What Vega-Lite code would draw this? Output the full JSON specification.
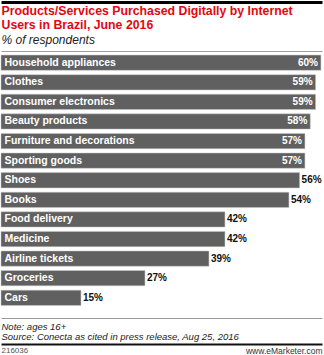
{
  "$schema": "https://vega.github.io/schema/vega-lite/v6.json",
  "width": 324,
  "height": 355,
  "autosize": {"type": "fit", "contains": "padding"},
  "padding": {"top": 1.5, "left": 0, "right": 0, "bottom": 0},
  "background": "white",
  "config": {
    "view": {"stroke": null},
    "axis": {"grid": false, "labels": false, "ticks": false, "tickSize": 0, "domainColor": "#9a9a9a", "domainWidth": 1, "titleFont": "Liberation Sans", "titleFontWeight": "normal"}
  },
  "data": {
    "values": [
      {"item": "Household appliances", "pct": 0.60},
      {"item": "Clothes", "pct": 0.59},
      {"item": "Consumer electronics", "pct": 0.59},
      {"item": "Beauty products", "pct": 0.58},
      {"item": "Furniture and decorations", "pct": 0.57},
      {"item": "Sporting goods", "pct": 0.57},
      {"item": "Shoes", "pct": 0.56},
      {"item": "Books", "pct": 0.54},
      {"item": "Food delivery", "pct": 0.42},
      {"item": "Medicine", "pct": 0.42},
      {"item": "Airline tickets", "pct": 0.39},
      {"item": "Groceries", "pct": 0.27},
      {"item": "Cars", "pct": 0.15}
    ]
  },
  "encoding": {
    "y": {
      "field": "item",
      "type": "nominal",
      "sort": null,
      "scale": {"paddingInner": 0.22, "paddingOuter": 0.08},
      "axis": {
        "title": null,
        "domain": false,
        "ticks": false,
        "tickSize": 0,
        "labels": true,
        "labelAlign": "left",
        "labelPadding": -3,
        "labelColor": "white",
        "labelFont": "Liberation Sans",
        "labelFontWeight": "bold",
        "labelFontSize": 10.5,
        "minExtent": 0,
        "zindex": 2
      }
    }
  },
  "layer": [
    {
      "mark": {"type": "bar", "color": "#606060", "stroke": "#c8c8c8", "strokeWidth": 0.5},
      "encoding": {
        "x": {"field": "pct", "type": "quantitative", "scale": {"domain": [0, 0.602]},
          "axis": {"orient": "top", "offset": 2.5, "domainColor": "#a0a0a0",
            "title": "% of respondents", "titleAnchor": "start", "titleAlign": "left", "titlePadding": 5,
            "titleFontStyle": "italic", "titleFontSize": 12, "titleColor": "#222222"}}
      }
    },
    {
      "transform": [{"filter": "datum.pct >= 0.57"}],
      "mark": {"type": "text", "align": "right", "dx": -3, "color": "white", "font": "Liberation Sans", "fontWeight": "bold", "fontSize": 10},
      "encoding": {
        "x": {"field": "pct", "type": "quantitative", "scale": {"domain": [0, 0.602]},
          "axis": {"orient": "top", "offset": 22, "domain": false,
            "title": ["Products/Services Purchased Digitally by Internet", "Users in Brazil, June 2016"],
            "titleAnchor": "start", "titleAlign": "left", "titlePadding": 0,
            "titleFontWeight": "bold", "titleFontSize": 12.3, "titleLineHeight": 14, "titleColor": "#e4060f"}},
        "text": {"field": "pct", "type": "quantitative", "format": ".0%"}
      }
    },
    {
      "mark": {"type": "point", "opacity": 0},
      "encoding": {
        "x": {"field": "pct", "type": "quantitative", "scale": {"domain": [0, 0.602]},
          "axis": {"orient": "top", "offset": 51.5, "title": null, "domain": true, "domainColor": "#000000", "domainWidth": 3}}
      }
    },
    {
      "transform": [{"filter": "datum.pct < 0.57"}],
      "mark": {"type": "text", "align": "left", "dx": 2, "color": "#111111", "font": "Liberation Sans", "fontWeight": "bold", "fontSize": 10},
      "encoding": {
        "x": {"field": "pct", "type": "quantitative", "scale": {"domain": [0, 0.602]},
          "axis": {"orient": "bottom", "offset": 11, "domainColor": "#9a9a9a",
            "title": ["Note: ages 16+", "Source: Conecta as cited in press release, Aug 25, 2016"],
            "titleAnchor": "start", "titleAlign": "left", "titlePadding": 3,
            "titleFontStyle": "italic",
            "titleFontSize": 9.5, "titleLineHeight": 10.5, "titleColor": "#222222"}},
        "text": {"field": "pct", "type": "quantitative", "format": ".0%"}
      }
    },
    {
      "mark": {"type": "point", "opacity": 0},
      "encoding": {
        "x": {"field": "pct", "type": "quantitative", "scale": {"domain": [0, 0.602]},
          "axis": {"orient": "bottom", "offset": 37, "domainColor": "#111111", "domainWidth": 2,
            "title": "216036", "titleAnchor": "start", "titleAlign": "left", "titlePadding": 2.5,
            "titleFontSize": 8, "titleColor": "#555555"}}
      }
    },
    {
      "mark": {"type": "point", "opacity": 0},
      "encoding": {
        "x": {"field": "pct", "type": "quantitative", "scale": {"domain": [0, 0.602]},
          "axis": {"orient": "bottom", "offset": 37, "domain": false,
            "title": "www.eMarketer.com", "titleAnchor": "end", "titleAlign": "right", "titlePadding": 2.5,
            "titleFontSize": 8.5, "titleColor": "#333333"}}
      }
    }
  ],
  "resolve": {"scale": {"x": "independent"}, "axis": {"x": "independent"}}
}
